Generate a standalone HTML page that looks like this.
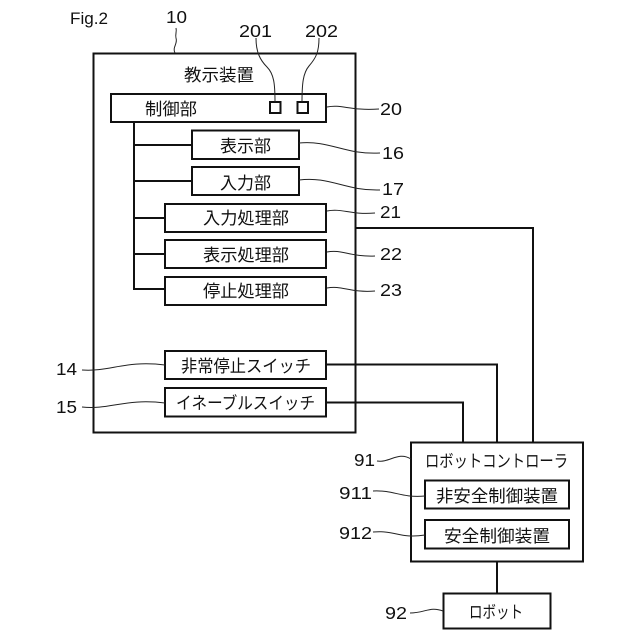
<!DOCTYPE html>
<html><head><meta charset="utf-8"><style>
html,body{margin:0;padding:0;background:#fff;width:640px;height:640px;overflow:hidden}
svg{display:block}
text{font-family:"Liberation Sans","Noto Sans CJK JP",sans-serif;fill:#111;lengthAdjust:spacingAndGlyphs}
.j{font-size:17.2px}
.n{font-size:17.5px}
.b{fill:#fff;stroke:#111;stroke-width:2}
.l{fill:none;stroke:#111;stroke-width:2}
.t{fill:none;stroke:#222;stroke-width:1}
</style></head><body>
<svg width="640" height="640" viewBox="0 0 640 640" xmlns="http://www.w3.org/2000/svg">
<rect x="93.500" y="53.500" width="262" height="379" class="b"/>
<path class="l" d="M134 122V289H165M134 145H192M134 181H192M134 218H165M134 254H165M355 228H533V442M326 364.500H497V442M326 402.500H463V442M497 562V593"/>
<rect x="111" y="94" width="215" height="28" class="b"/>
<rect x="270" y="102" width="10.500" height="11" class="b"/>
<rect x="297.500" y="102" width="10.500" height="11" class="b"/>
<rect x="192" y="130.500" width="107" height="28.500" class="b"/>
<rect x="192" y="167" width="107" height="28" class="b"/>
<rect x="165" y="204" width="161" height="28" class="b"/>
<rect x="165" y="240" width="161" height="28" class="b"/>
<rect x="165" y="277" width="161" height="28" class="b"/>
<rect x="165" y="351" width="161" height="28" class="b"/>
<rect x="165" y="388" width="161" height="28.500" class="b"/>
<rect x="411" y="442.500" width="172" height="119" class="b"/>
<rect x="425" y="480.500" width="144" height="28" class="b"/>
<rect x="425" y="520" width="144" height="28.500" class="b"/>
<rect x="443.500" y="593.500" width="107" height="35" class="b"/>

<path class="t" d="M175 53C172 47 178 44 176 38C175 34 177 32 176 28"/>
<path class="t" d="M256 38C256 52 260 60 267 67C274 74 275 84 275 102"/>
<path class="t" d="M319 38C319 52 316 58 309 66C303 73 302 84 302 102"/>
<path class="t" d="M327 107C342 104 350 111 379 109"/>
<path class="t" d="M299 143C330 140 345 155 380 153"/>
<path class="t" d="M299 180C330 176 345 191 380 190"/>
<path class="t" d="M327 211C342 208 350 215 375 213"/>
<path class="t" d="M327 252C342 249 350 257 375 256"/>
<path class="t" d="M327 288C342 285 350 293 375 291"/>
<path class="t" d="M82 370C110 372 125 360 165 365"/>
<path class="t" d="M82 407C110 410 125 398 165 403"/>
<path class="t" d="M377 461C390 463 398 451 411 459"/>
<path class="t" d="M373 491C395 490 400 498 425 496"/>
<path class="t" d="M373 532C395 530 400 539 425 535"/>
<path class="t" d="M410 613C425 613 430 606 443 611"/>

<text x="70" y="24" style="font-size:16.5px" textLength="38" lengthAdjust="spacingAndGlyphs">Fig.2</text>
<text x="166" y="23" class="n" textLength="21" lengthAdjust="spacingAndGlyphs">10</text>
<text x="239" y="37" class="n" textLength="33" lengthAdjust="spacingAndGlyphs">201</text>
<text x="305" y="37" class="n" textLength="33" lengthAdjust="spacingAndGlyphs">202</text>
<text x="380" y="115" class="n" textLength="22" lengthAdjust="spacingAndGlyphs">20</text>
<text x="382" y="159" class="n" textLength="22" lengthAdjust="spacingAndGlyphs">16</text>
<text x="382" y="195" class="n" textLength="22" lengthAdjust="spacingAndGlyphs">17</text>
<text x="380" y="218" class="n" textLength="21" lengthAdjust="spacingAndGlyphs">21</text>
<text x="380" y="260" class="n" textLength="22" lengthAdjust="spacingAndGlyphs">22</text>
<text x="380" y="296" class="n" textLength="22" lengthAdjust="spacingAndGlyphs">23</text>
<text x="56" y="375" class="n" textLength="21" lengthAdjust="spacingAndGlyphs">14</text>
<text x="56" y="413" class="n" textLength="21" lengthAdjust="spacingAndGlyphs">15</text>
<text x="354" y="466" class="n" textLength="21" lengthAdjust="spacingAndGlyphs">91</text>
<text x="339" y="499" class="n" textLength="33" lengthAdjust="spacingAndGlyphs">911</text>
<text x="339" y="539" class="n" textLength="33" lengthAdjust="spacingAndGlyphs">912</text>
<text x="385" y="619" class="n" textLength="22" lengthAdjust="spacingAndGlyphs">92</text>

<text x="184" y="81" class="j" textLength="70" lengthAdjust="spacingAndGlyphs">教示装置</text>
<text x="145" y="115" class="j" textLength="52" lengthAdjust="spacingAndGlyphs">制御部</text>
<text x="220" y="152" class="j" textLength="51" lengthAdjust="spacingAndGlyphs">表示部</text>
<text x="220" y="189" class="j" textLength="51" lengthAdjust="spacingAndGlyphs">入力部</text>
<text x="203" y="224" class="j" textLength="86" lengthAdjust="spacingAndGlyphs">入力処理部</text>
<text x="203" y="261" class="j" textLength="86" lengthAdjust="spacingAndGlyphs">表示処理部</text>
<text x="203" y="297" class="j" textLength="86" lengthAdjust="spacingAndGlyphs">停止処理部</text>
<text x="181" y="372" class="j" textLength="130" lengthAdjust="spacingAndGlyphs">非常停止スイッチ</text>
<text x="176" y="409" class="j" textLength="139" lengthAdjust="spacingAndGlyphs">イネーブルスイッチ</text>
<text x="425" y="467" class="j" textLength="143" lengthAdjust="spacingAndGlyphs">ロボットコントローラ</text>
<text x="436" y="502" class="j" textLength="122" lengthAdjust="spacingAndGlyphs">非安全制御装置</text>
<text x="444" y="542" class="j" textLength="106" lengthAdjust="spacingAndGlyphs">安全制御装置</text>
<text x="469" y="618" class="j" textLength="54" lengthAdjust="spacingAndGlyphs">ロボット</text>
</svg>
</body></html>
